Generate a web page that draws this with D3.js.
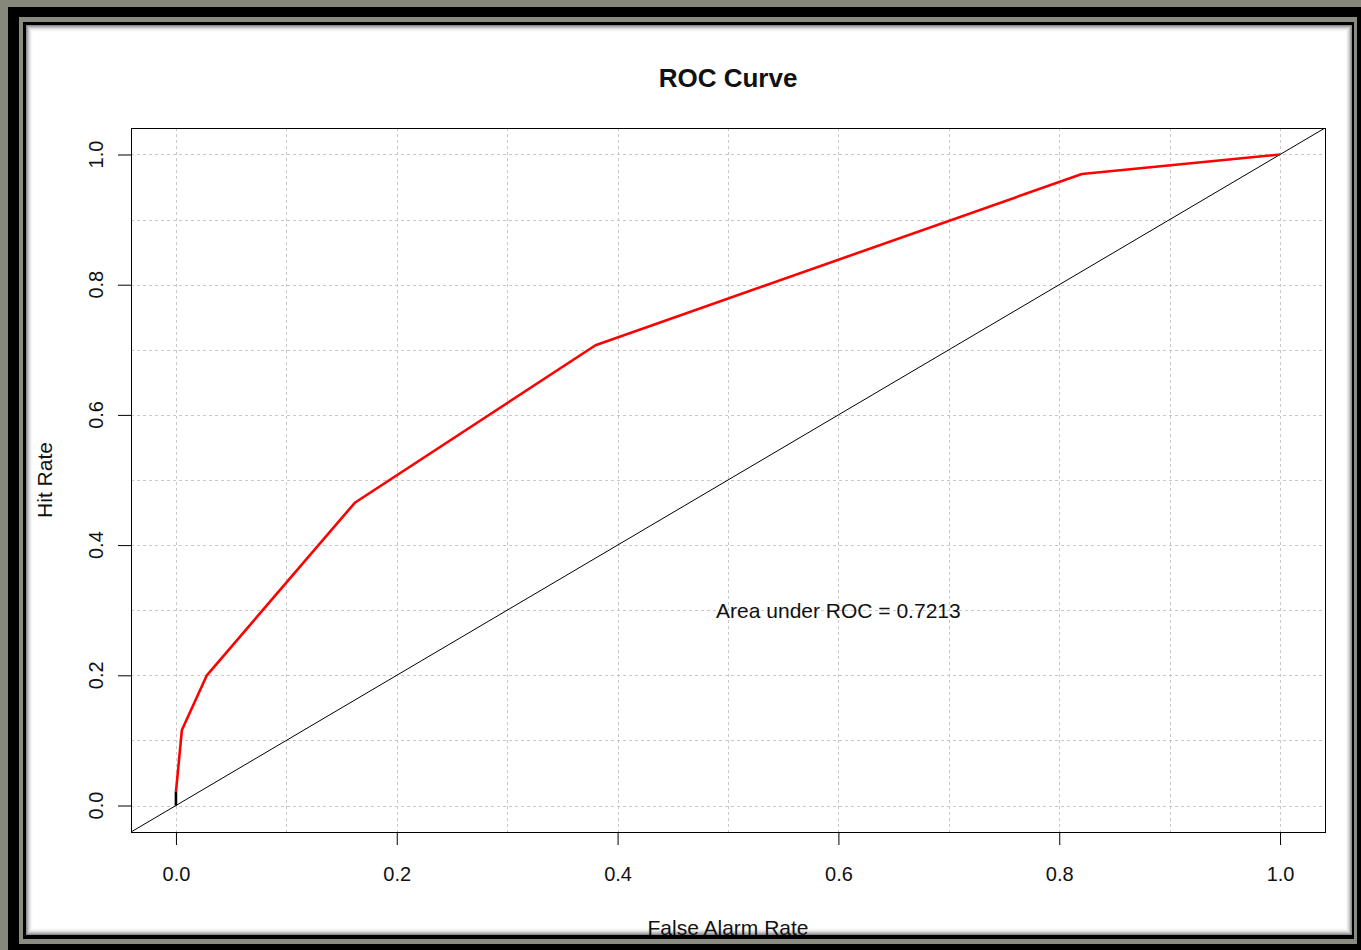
<!DOCTYPE html>
<html>
<head>
<meta charset="utf-8">
<script src="https://cdn.jsdelivr.net/npm/d3@7/dist/d3.min.js"></script>
<style>
  body { margin: 0; background: #86887c; }
  text { font-family: "Liberation Sans", Arial, sans-serif; fill: #111; }
</style>
</head>
<body>
<script>
// data
const falseAlarm = [0, 0, 0.0054, 0.028, 0.162, 0.380, 0.8205, 1];
const hitRate    = [0, 0.021, 0.116, 0.200, 0.465, 0.707, 0.970, 1];
const tickValues = [0, 0.2, 0.4, 0.6, 0.8, 1.0];
const gridValues = [0, 0.1, 0.2, 0.3, 0.4, 0.5, 0.6, 0.7, 0.8, 0.9, 1.0];
const aucText = "Area under ROC = 0.7213";

const W = 1361, H = 950;
const plot = { left: 131, right: 1325, top: 128, bottom: 832 };

const svg = d3.select("body").append("svg")
    .attr("width", W)
    .attr("height", H);

// picture frame
svg.append("rect").attr("width", W).attr("height", H).attr("fill", "#86887c");
svg.append("rect").attr("x", 8).attr("y", 7).attr("width", W).attr("height", H).attr("fill", "#000");
svg.append("rect").attr("x", 19).attr("y", 17).attr("width", 1338).attr("height", 927).attr("fill", "#8a8c80");
svg.append("rect").attr("x", 23).attr("y", 22).attr("width", 1331).attr("height", 917).attr("fill", "#000");
svg.append("rect").attr("x", 26).attr("y", 25).attr("width", 1326).attr("height", 910).attr("fill", "#fff");
// inner shadow
for (let i = 0; i < 7; i++) {
    svg.append("rect")
        .attr("x", 26.5 + i).attr("y", 25.5 + i)
        .attr("width", 1325 - 2 * i).attr("height", 909 - 2 * i)
        .attr("fill", "none")
        .attr("stroke", "#000")
        .attr("stroke-opacity", 0.45 * Math.pow(1 - i / 7, 2));
}

// scales (R style 4% extension)
const x = d3.scaleLinear().domain([-0.0407, 1.0407]).range([plot.left, plot.right]);
const y = d3.scaleLinear().domain([-0.0407, 1.0407]).range([plot.bottom, plot.top]);

svg.append("clipPath").attr("id", "clip")
  .append("rect")
    .attr("x", plot.left).attr("y", plot.top)
    .attr("width", plot.right - plot.left).attr("height", plot.bottom - plot.top);

// grid
const grid = svg.append("g")
    .attr("stroke", "#c8c8c8")
    .attr("stroke-dasharray", "3,3")
    .attr("shape-rendering", "crispEdges");
grid.selectAll(".vg").data(gridValues).enter().append("line")
    .attr("x1", d => Math.round(x(d)) + 0.5).attr("x2", d => Math.round(x(d)) + 0.5)
    .attr("y1", plot.top).attr("y2", plot.bottom);
grid.selectAll(".hg").data(gridValues).enter().append("line")
    .attr("y1", d => Math.round(y(d)) + 0.5).attr("y2", d => Math.round(y(d)) + 0.5)
    .attr("x1", plot.left).attr("x2", plot.right);

// diagonal reference line
svg.append("line")
    .attr("clip-path", "url(#clip)")
    .attr("x1", x(x.domain()[0])).attr("y1", y(y.domain()[0]))
    .attr("x2", x(x.domain()[1])).attr("y2", y(y.domain()[1]))
    .attr("stroke", "#000")
    .attr("stroke-width", 1);

// ROC curve
const pts = falseAlarm.map((f, i) => [f, hitRate[i]]);
const line = d3.line().x(d => x(d[0])).y(d => y(d[1]));

svg.append("path")
    .datum(pts.slice(1))
    .attr("d", line)
    .attr("fill", "none")
    .attr("stroke", "#ff0000")
    .attr("stroke-width", 2.6)
    .attr("stroke-linejoin", "round");

svg.append("path")
    .datum(pts.slice(0, 2))
    .attr("d", line)
    .attr("fill", "none")
    .attr("stroke", "#000")
    .attr("stroke-width", 2.6);

// box
svg.append("rect")
    .attr("x", plot.left + 0.5).attr("y", plot.top + 0.5)
    .attr("width", plot.right - plot.left).attr("height", plot.bottom - plot.top)
    .attr("fill", "none")
    .attr("stroke", "#000")
    .attr("shape-rendering", "crispEdges");

// x axis
const xAxis = svg.append("g")
    .attr("transform", `translate(0,${plot.bottom})`)
    .call(d3.axisBottom(x)
        .tickValues(tickValues)
        .tickFormat(d3.format(".1f"))
        .tickSize(13)
        .tickPadding(22));
xAxis.select(".domain").remove();
xAxis.selectAll("line").attr("stroke", "#000");
xAxis.selectAll("text")
    .attr("font-size", "20px")
    .attr("font-family", "Liberation Sans, Arial, sans-serif")
    .attr("fill", "#111");

// y axis
const yAxis = svg.append("g")
    .attr("transform", `translate(${plot.left},0)`)
    .call(d3.axisLeft(y)
        .tickValues(tickValues)
        .tickFormat("")
        .tickSize(13));
yAxis.select(".domain").remove();
yAxis.selectAll("line").attr("stroke", "#000");

svg.selectAll(".ylab").data(tickValues).enter().append("text")
    .attr("class", "ylab")
    .attr("transform", d => `translate(103,${y(d)}) rotate(-90)`)
    .attr("text-anchor", "middle")
    .attr("font-size", "20px")
    .text(d3.format(".1f"));

// titles
svg.append("text")
    .attr("x", (plot.left + plot.right) / 2).attr("y", 87)
    .attr("text-anchor", "middle")
    .attr("font-size", "26px")
    .attr("font-weight", "bold")
    .text("ROC Curve");

svg.append("text")
    .attr("x", (plot.left + plot.right) / 2).attr("y", 935)
    .attr("text-anchor", "middle")
    .attr("font-size", "21px")
    .text("False Alarm Rate");

svg.append("text")
    .attr("transform", `translate(52,${(plot.top + plot.bottom) / 2}) rotate(-90)`)
    .attr("text-anchor", "middle")
    .attr("font-size", "21px")
    .text("Hit Rate");

// AUC annotation
svg.append("text")
    .attr("x", x(0.6)).attr("y", y(0.3))
    .attr("dy", "0.35em")
    .attr("text-anchor", "middle")
    .attr("font-size", "21px")
    .text(aucText);
</script>
</body>
</html>
